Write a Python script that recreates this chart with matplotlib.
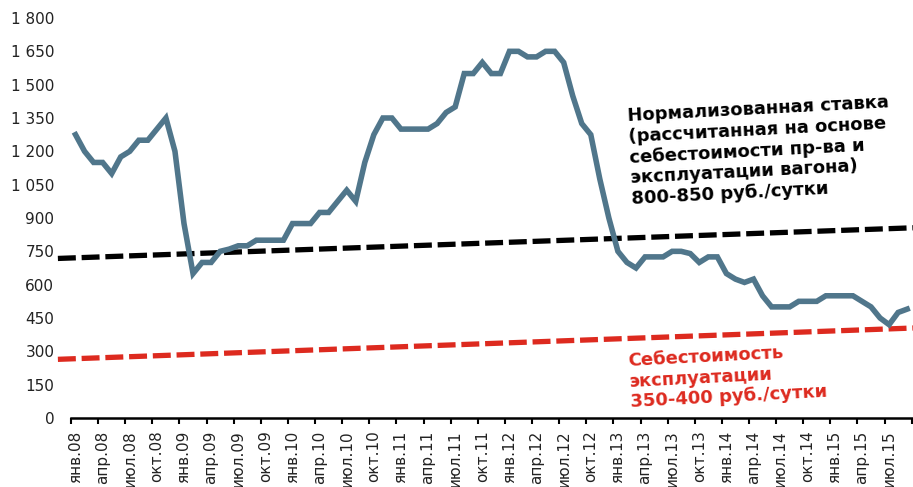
import numpy as np
import matplotlib
matplotlib.use("Agg")
import matplotlib.pyplot as plt

# Ставка аренды вагона, руб./сутки, помесячно янв.08 - сен.15
rate = [
    1275, 1200, 1150, 1150, 1100, 1175, 1200, 1250, 1250, 1300, 1350, 1200,  # 2008
    875, 650, 700, 700, 750, 760, 775, 775, 800, 800, 800, 800,              # 2009
    875, 875, 875, 925, 925, 975, 1025, 975, 1150, 1275, 1350, 1350,         # 2010
    1300, 1300, 1300, 1300, 1325, 1375, 1400, 1550, 1550, 1600, 1550, 1550,  # 2011
    1650, 1650, 1625, 1625, 1650, 1650, 1600, 1450, 1325, 1275, 1075, 900,   # 2012
    750, 700, 675, 725, 725, 725, 750, 750, 740, 700, 725, 725,              # 2013
    650, 625, 610, 625, 550, 500, 500, 500, 525, 525, 525, 550,              # 2014
    550, 550, 550, 525, 500, 450, 420, 475, 490,                             # 2015
]

tick_labels = [
    'янв.08', 'апр.08', 'июл.08', 'окт.08',
    'янв.09', 'апр.09', 'июл.09', 'окт.09',
    'янв.10', 'апр.10', 'июл.10', 'окт.10',
    'янв.11', 'апр.11', 'июл.11', 'окт.11',
    'янв.12', 'апр.12', 'июл.12', 'окт.12',
    'янв.13', 'апр.13', 'июл.13', 'окт.13',
    'янв.14', 'апр.14', 'июл.14', 'окт.14',
    'янв.15', 'апр.15', 'июл.15',
]

# линии уровней (начало и конец)
norm_rate = [718, 856]
op_cost = [264, 405]

y_ticks = [0, 150, 300, 450, 600, 750, 900, 1050, 1200, 1350, 1500, 1650, 1800]

blue = '#50768B'
red = '#DD2A1F'

fig = plt.figure(figsize=(9.13, 4.87), dpi=100)
ax = fig.add_axes([71 / 913, 69 / 487, 840.7 / 913, 400 / 487])

n = len(rate)
x = np.arange(n)

# пунктирные линии выходят немного левее оси
line_x = [-1.95, n - 0.3]
ax.plot(line_x, norm_rate, color='black', lw=3.8, dashes=(3.4, 1.1),
        solid_capstyle='butt', dash_capstyle='butt', clip_on=False, zorder=2)
ax.plot(line_x, op_cost, color=red, lw=3.8, dashes=(3.4, 1.1),
        solid_capstyle='butt', dash_capstyle='butt', clip_on=False, zorder=2)

ax.plot(x, rate, color=blue, lw=4.0, solid_joinstyle='miter', zorder=3)

ax.set_xlim(-0.5, n - 0.5)
ax.set_ylim(0, 1800)

ax.set_yticks(y_ticks)
ax.set_yticklabels([f'{v:,}'.replace(',', ' ') for v in y_ticks])
ax.tick_params(axis='y', length=0, pad=12, labelsize=11, labelcolor='#222222')

# деления между категориями, подписи по центру категорий
ax.set_xticks(np.arange(-0.5, n, 3))
ax.set_xticklabels([])
ax.set_xticks(np.arange(0, n, 3)[:len(tick_labels)], minor=True)
ax.set_xticklabels(tick_labels, minor=True, rotation=90)
ax.tick_params(axis='x', which='major', length=4, width=1.5, direction='out', color='black')
ax.tick_params(axis='x', which='minor', length=0, pad=9, labelsize=11, labelcolor='#222222')

for side in ['top', 'right', 'left']:
    ax.spines[side].set_visible(False)
ax.spines['bottom'].set_linewidth(1.8)
ax.spines['bottom'].set_color('black')

ax.text(61.0, 1400, 'Нормализованная ставка\n(рассчитанная на основе\nсебестоимости пр-ва и\nэксплуатации вагона)\n800-850 руб./сутки',
        fontsize=13, fontweight='bold', color='black', ha='left', va='top',
        rotation=3, rotation_mode='anchor', linespacing=1.2, zorder=4)
ax.text(61.1, 298, 'Себестоимость\nэксплуатации\n350-400 руб./сутки',
        fontsize=13, fontweight='bold', color=red, ha='left', va='top',
        rotation=3, rotation_mode='anchor', linespacing=1.2, zorder=4)

fig.savefig('out.png', dpi=100)
